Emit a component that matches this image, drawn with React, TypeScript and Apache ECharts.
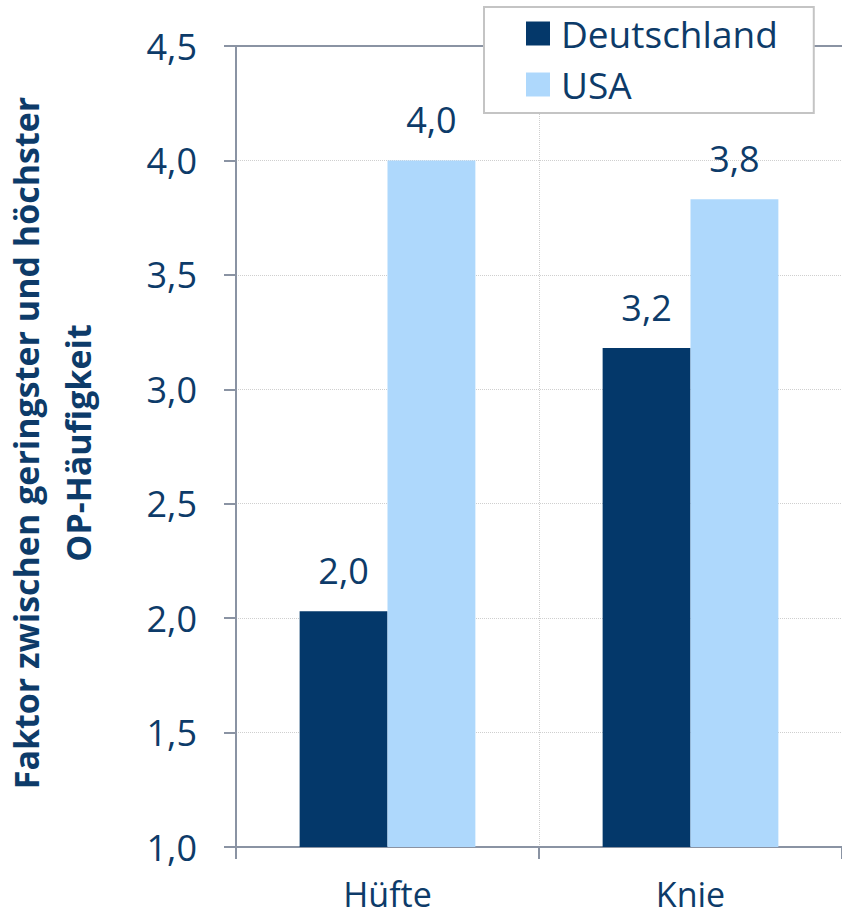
import React, { useEffect, useRef } from "react";
import * as echarts from "echarts";

// Joint categories and the ratio between lowest and highest surgery rate
const categories = ["Hüfte", "Knie"];
const germany = [2.03, 3.18];
const usa = [4.0, 3.83];
const seriesNames = ["Deutschland", "USA"];
const axisTitle = "Faktor zwischen geringster und höchster\nOP-Häufigkeit";

const TEXT = "#0d3b69";
const FONT = "'Open Sans', sans-serif";
const fmt = (v: number) => v.toFixed(1).replace(".", ",");

export default function App() {
  const ref = useRef<HTMLDivElement>(null);

  useEffect(() => {
    if (!ref.current) return;
    const chart = echarts.init(ref.current, null, { renderer: "svg" });
    const barLabel = {
      show: true,
      position: "top" as const,
      distance: 23,
      color: TEXT,
      fontSize: 36,
      fontFamily: FONT,
      formatter: (p: any) => fmt(p.value),
    };
    chart.setOption({
      animation: false,
      backgroundColor: "#ffffff",
      textStyle: { fontFamily: FONT, color: TEXT },
      grid: { left: 236, top: 46, width: 610, bottom: 72, containLabel: false },
      legend: {
        orient: "vertical",
        left: 484,
        top: 7,
        data: seriesNames,
        icon: "rect",
        itemWidth: 24,
        itemHeight: 24,
        itemGap: 14,
        padding: [8, 36, 10, 42],
        backgroundColor: "#ffffff",
        borderColor: "#c4c4c4",
        borderWidth: 2,
        textStyle: {
          color: TEXT,
          fontSize: 37,
          lineHeight: 37,
          fontFamily: FONT,
          padding: [0, 0, 0, 6],
        },
      },
      graphic: [
        {
          type: "text",
          x: 52,
          y: 443,
          rotation: Math.PI / 2,
          style: {
            text: axisTitle,
            align: "center",
            verticalAlign: "middle",
            fontFamily: FONT,
            fontWeight: "bold",
            fontSize: 34,
            lineHeight: 52,
            fill: TEXT,
          },
        },
      ],
      xAxis: [
        {
          type: "category",
          data: categories,
          axisLine: { lineStyle: { color: "#8a93a3", width: 2 } },
          axisTick: { show: true, length: 12, lineStyle: { color: "#8a93a3", width: 2 } },
          axisLabel: { color: TEXT, fontSize: 34, lineHeight: 34, fontFamily: FONT, margin: 30 },
          splitLine: { show: true, lineStyle: { color: "#cfcfcf", type: "dotted", width: 1 } },
        },
        {
          type: "category",
          position: "top",
          data: categories,
          axisLine: { show: true, lineStyle: { color: "#8a93a3", width: 2 } },
          axisTick: { show: false },
          axisLabel: { show: false },
          splitLine: { show: false },
        },
      ],
      yAxis: {
        type: "value",
        min: 1,
        max: 4.5,
        interval: 0.5,
        axisLine: { show: true, lineStyle: { color: "#8a93a3", width: 2 } },
        axisTick: { show: true, length: 12, lineStyle: { color: "#8a93a3", width: 2 } },
        axisLabel: { color: TEXT, fontSize: 36, fontFamily: FONT, margin: 39, formatter: fmt },
        splitLine: { show: true, lineStyle: { color: "#cfcfcf", type: "dotted", width: 1 } },
      },
      series: [
        {
          name: seriesNames[0],
          type: "bar",
          data: germany,
          barGap: "0%",
          barCategoryGap: "42%",
          itemStyle: { color: "#04386a" },
          label: barLabel,
        },
        {
          name: seriesNames[1],
          type: "bar",
          data: usa,
          itemStyle: { color: "#aed8fc" },
          label: barLabel,
        },
      ],
    });
    return () => chart.dispose();
  }, []);

  return (
    <div
      ref={ref}
      style={{ position: "fixed", left: 0, top: 0, width: 842, height: 919 }}
    />
  );
}
